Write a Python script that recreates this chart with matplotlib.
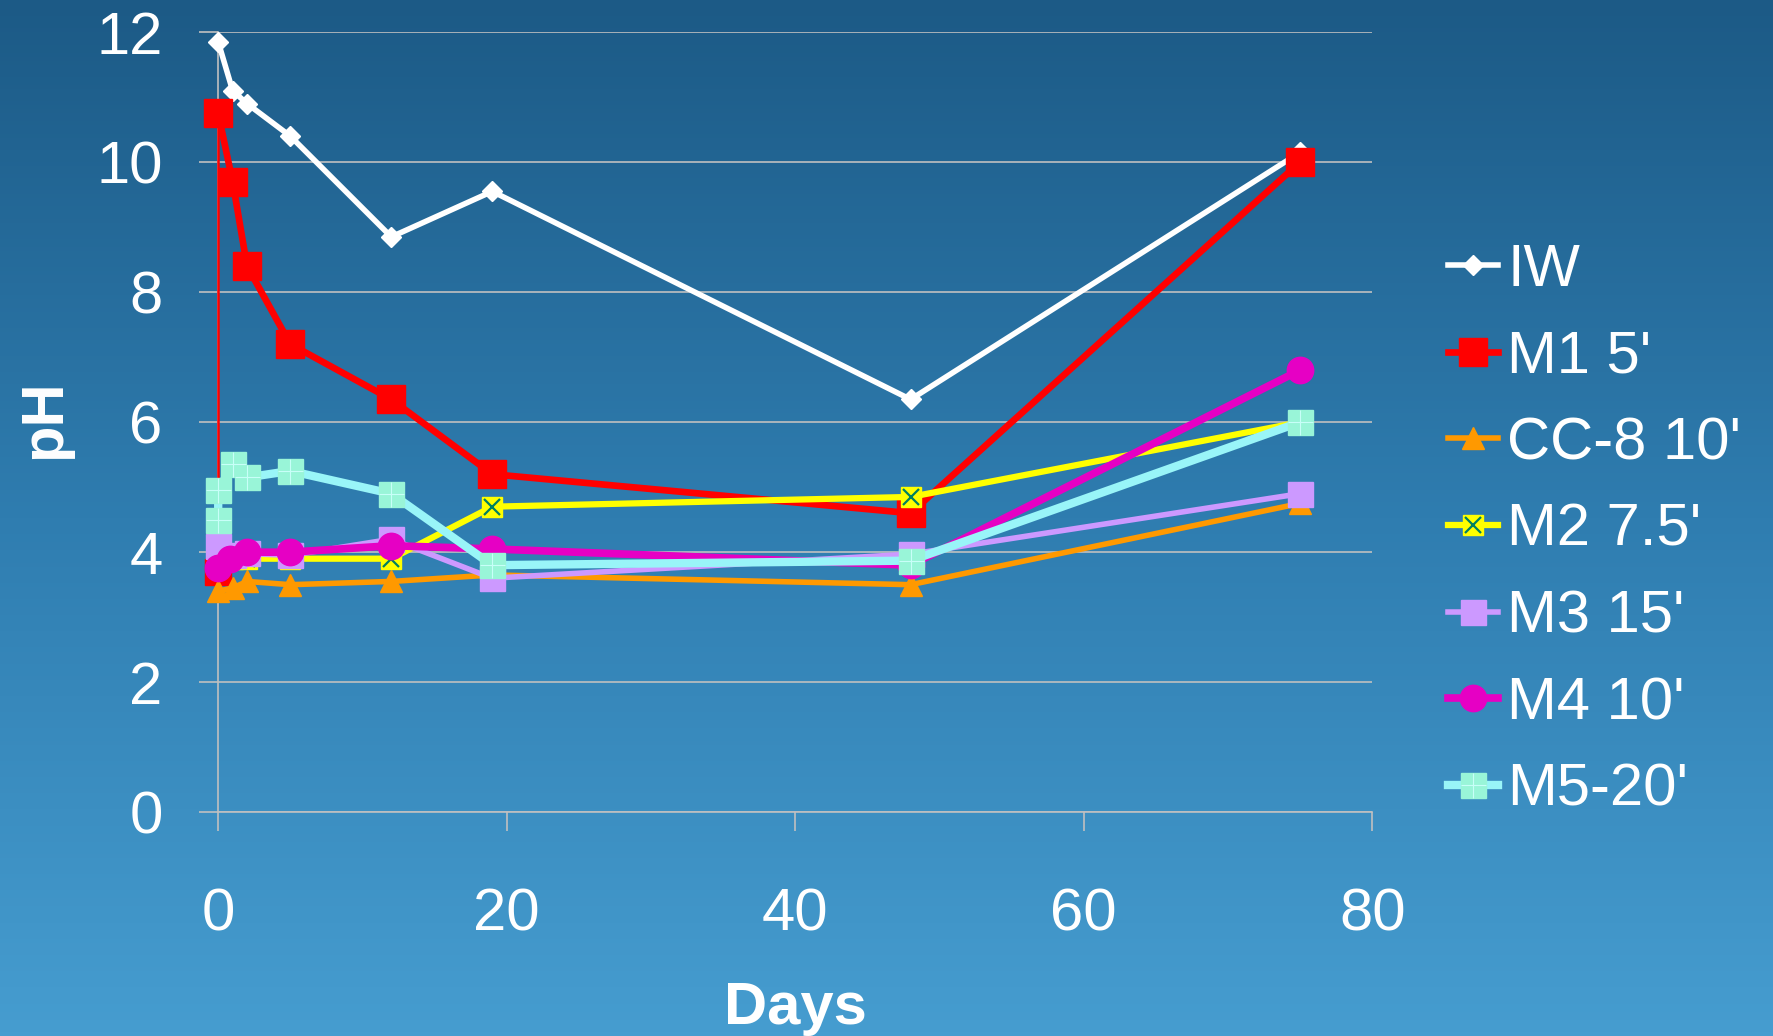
import numpy as np
import matplotlib
matplotlib.use("Agg")
import matplotlib.pyplot as plt
from matplotlib.colors import LinearSegmentedColormap
from matplotlib.legend_handler import HandlerTuple

plt.rcParams['font.family'] = ['Liberation Sans', 'DejaVu Sans']

# pH readings per sample over time (days)
iw_days = [0, 1, 2, 5, 12, 19, 48, 75]
iw_ph = [11.85, 11.1, 10.9, 10.4, 8.85, 9.55, 6.35, 10.15]

m1_days = [0, 0, 1, 2, 5, 12, 19, 48, 75]
m1_ph = [3.7, 10.75, 9.7, 8.4, 7.2, 6.35, 5.2, 4.6, 10.0]

cc8_days = [0, 1, 2, 5, 12, 19, 48, 75]
cc8_ph = [3.4, 3.45, 3.55, 3.5, 3.55, 3.65, 3.5, 4.75]

m2_days = [0, 1, 2, 5, 12, 19, 48, 75]
m2_ph = [3.85, 3.9, 3.9, 3.9, 3.9, 4.7, 4.85, 6.0]

m3_days = [0, 1, 2, 5, 12, 19, 48, 75]
m3_ph = [4.1, 3.95, 3.98, 3.95, 4.2, 3.6, 3.97, 4.9]

m4_days = [0, 0.8, 2, 5, 12, 19, 48, 75]
m4_ph = [3.75, 3.9, 4.0, 4.0, 4.1, 4.05, 3.8, 6.8]

m5_days = [0, 0, 1, 2, 5, 12, 19, 48, 75]
m5_ph = [4.5, 4.95, 5.35, 5.15, 5.25, 4.9, 3.8, 3.87, 6.0]

labels = ["IW", "M1 5'", "CC-8 10'", "M2 7.5'", "M3 15'", "M4 10'", "M5-20'"]

fig = plt.figure(figsize=(17.74, 10.36), dpi=100)

# blue gradient backdrop
bg = fig.add_axes([0, 0, 1, 1], zorder=-10)
grad = np.linspace(0, 1, 256).reshape(-1, 1)
cmap = LinearSegmentedColormap.from_list("bg", ["#1c5a86", "#2f7db0", "#469dd0"])
bg.imshow(grad, aspect="auto", cmap=cmap, extent=[0, 1, 0, 1], origin="upper")
bg.axis("off")

ax = fig.add_axes([0.123, 0.216, 0.6505, 0.753])
ax.set_facecolor("none")

grid_c = "#c0c0c0"
ax.set_xlim(0, 80)
ax.set_ylim(0, 12)
ax.set_xticks(range(0, 81, 20))
ax.set_yticks(range(0, 13, 2))
ax.yaxis.grid(True, color=grid_c, lw=1.2)
ax.set_axisbelow(True)
for s in ["top", "right"]:
    ax.spines[s].set_visible(False)
for s in ["left", "bottom"]:
    ax.spines[s].set_color(grid_c)
    ax.spines[s].set_linewidth(1.2)
ax.tick_params(axis="both", colors=grid_c, length=14, width=1.2, labelcolor="white", labelsize=43)
ax.tick_params(axis="x", pad=40)
ax.tick_params(axis="y", pad=26)

kw = dict(clip_on=False)
# IW
h_iw, = ax.plot(iw_days, iw_ph, color="white", lw=4, marker="D", ms=10,
                mfc="white", mec="white", zorder=3, **kw)
# M1 (first step at day 0 drawn thin)
ax.plot(m1_days[:2], m1_ph[:2], color="#ff0000", lw=1.8, zorder=4, **kw)
ax.plot(m1_days[:1], m1_ph[:1], ls="none", marker="s", ms=19, color="#ff0000", zorder=4, **kw)
h_m1, = ax.plot(m1_days[1:], m1_ph[1:], color="#ff0000", lw=4.8, marker="s", ms=20,
                mfc="#ff0000", mec="#ff0000", zorder=4, **kw)
# CC-8
h_cc, = ax.plot(cc8_days, cc8_ph, color="#ff9900", lw=4, marker="^", ms=16,
                mfc="#ff9900", mec="#ff9900", zorder=5, **kw)
# M2
h_m2, = ax.plot(m2_days, m2_ph, color="#ffff00", lw=4.5, marker="s", ms=14,
                mfc="#ffff00", mec="#ffff00", zorder=6, **kw)
h_m2x, = ax.plot(m2_days, m2_ph, ls="none", marker="x", ms=11, mew=1.6,
                 color="#008060", zorder=6, **kw)
# M3
h_m3, = ax.plot(m3_days, m3_ph, color="#cc99ff", lw=4, marker="s", ms=18,
                mfc="#cc99ff", mec="#cc99ff", zorder=7, **kw)
# M4
h_m4, = ax.plot(m4_days, m4_ph, color="#e600c4", lw=5.5, marker="o", ms=19,
                mfc="#e600c4", mec="#e600c4", zorder=8, **kw)
# M5
h_m5, = ax.plot(m5_days, m5_ph, color="#99f5f8", lw=6, marker="s", ms=18,
                mfc="#99f5d8", mec="#99f5d8", zorder=9, **kw)
h_m5p, = ax.plot(m5_days, m5_ph, ls="none", marker="+", ms=18, mew=0.8,
                 color="#c8fff8", zorder=9, **kw)

ax.set_xlabel("Days", fontsize=43, fontweight="bold", color="white", labelpad=28)
fig.text(0.025, 0.595, "pH", rotation=90, fontsize=43, fontweight="bold",
         color="white", ha="center", va="center")

handles = [h_iw, h_m1, h_cc, (h_m2, h_m2x), h_m3, h_m4, (h_m5, h_m5p)]
leg = fig.legend(handles, labels, loc="center left", bbox_to_anchor=(0.816, 0.488),
                 frameon=False, fontsize=43, handlelength=0.85, handletextpad=0.15,
                 labelspacing=0.53, borderpad=0, borderaxespad=0,
                 handler_map={tuple: HandlerTuple(ndivide=1, pad=0)})
for t in leg.get_texts():
    t.set_color("white")

fig.savefig("out.png", dpi=100)
